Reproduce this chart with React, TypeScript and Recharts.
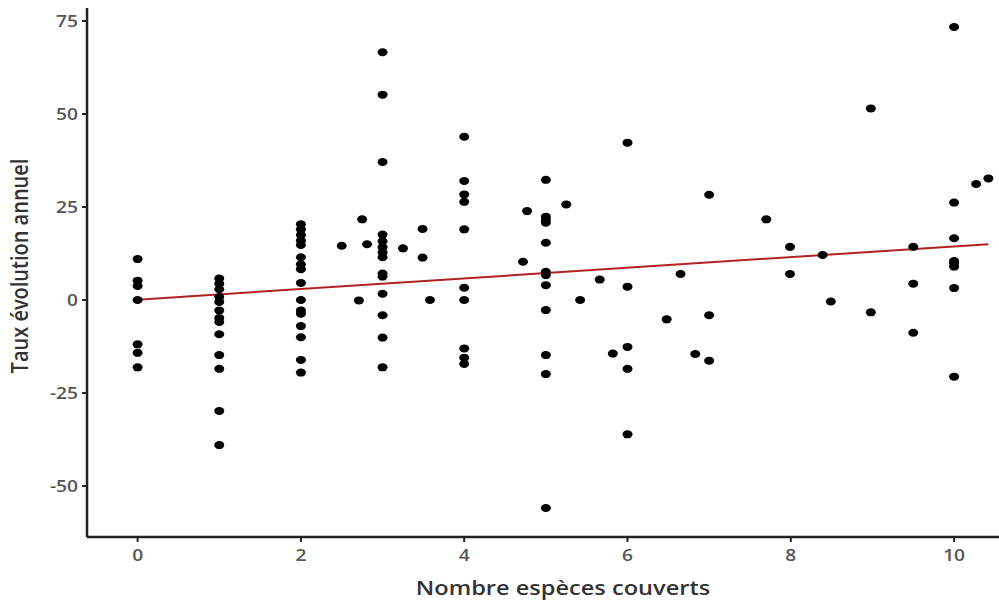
import React from "react";
import { ScatterChart, Scatter, XAxis, YAxis, ReferenceLine, Label } from "recharts";

// Values (x = Nombre espèces couverts, y = Taux évolution annuel)
const col0 = [11.0, 5.2, 3.8, 0, -11.9, -14.2, -18.1];
const col1 = [5.8, 4.4, 2.9, 0.8, -0.5, -2.8, -4.8, -5.9, -9.2, -14.8, -18.5, -29.8, -39.0];
const col2 = [20.4, 19.0, 17.5, 16.0, 14.8, 11.5, 9.6, 8.3, 4.6, 0, -2.8, -3.7, -7.0, -10.0, -16.1, -19.5];
const col3 = [66.6, 55.2, 37.1, 17.6, 15.8, 14.2, 12.8, 11.5, 7.1, 6.3, 1.7, -4.1, -10.1, -18.1];
const col4 = [43.9, 32.0, 28.4, 26.4, 19.0, 3.3, 0, -13.0, -15.5, -17.2];
const col5 = [32.3, 22.4, 21.5, 20.8, 15.4, 7.6, 6.7, 4.0, -2.7, -14.8, -19.9, -55.9];
const col6 = [42.3, 3.6, -12.6, -18.5, -36.1];
const col10 = [73.4, 26.2, 16.6, 10.5, 9.9, 9.0, 3.2, -20.6];

const otherX = [2.5, 2.75, 2.81, 2.71, 3.25, 3.49, 3.49, 3.58, 4.77, 4.72, 5.25, 5.42, 5.66, 5.82, 6.48, 6.65, 6.83, 7.0, 7.0, 7.0, 7.7, 7.99, 7.99, 8.39, 8.49, 8.98, 8.98, 9.5, 9.5, 9.5, 10.27, 10.42];
const otherY = [14.6, 21.7, 15.0, -0.1, 13.9, 19.1, 11.4, 0, 23.9, 10.3, 25.7, 0, 5.5, -14.4, -5.2, 7.0, -14.5, 28.3, -4.1, -16.3, 21.7, 14.3, 7.0, 12.1, -0.4, 51.5, -3.3, 14.3, 4.4, -8.8, 31.2, 32.7];

const fitX = [0, 10.42];
const fitY = [0.1, 15.0];

const xTicks = [0, 2, 4, 6, 8, 10];
const yTicks = [-50, -25, 0, 25, 50, 75];

const columns: [number, number[]][] = [
  [0, col0], [1, col1], [2, col2], [3, col3], [4, col4], [5, col5], [6, col6], [10, col10],
];

const points = [
  ...columns.flatMap(([x, ys]) => ys.map((y) => ({ x, y }))),
  ...otherX.map((x, i) => ({ x, y: otherY[i] })),
];

const FONT = "'Open Sans', 'Noto Sans', sans-serif";
const SX = 1.2;

const Dot = (props: any) => {
  const { cx, cy } = props;
  if (cx == null || cy == null) return null;
  return <ellipse cx={cx} cy={cy} rx={5} ry={4} fill="#000" />;
};

const XTick = (props: any) => {
  const { x, y, payload } = props;
  return (
    <text
      transform={`translate(${x},${y}) scale(${SX},1)`}
      textAnchor="middle"
      dy="0.71em"
      fill="#555"
      fontSize={16}
      fontWeight={600}
      fontFamily={FONT}
    >
      {payload.value}
    </text>
  );
};

const YTick = (props: any) => {
  const { x, y, payload } = props;
  return (
    <text
      transform={`translate(${x},${y}) scale(${SX},1)`}
      textAnchor="end"
      dy="0.355em"
      fill="#555"
      fontSize={16}
      fontWeight={600}
      fontFamily={FONT}
    >
      {payload.value}
    </text>
  );
};

const XTitle = (props: any) => {
  const vb = props.viewBox || { x: 87, y: 537, width: 912 };
  return (
    <text
      transform={`translate(${vb.x + vb.width / 2 + 20},${vb.y + 51}) scale(1.18,1)`}
      textAnchor="middle"
      dy="0.355em"
      fill="#333"
      fontSize={20}
      fontWeight={600}
      fontFamily={FONT}
    >
      Nombre espèces couverts
    </text>
  );
};

const YTitle = (props: any) => {
  return (
    <text
      transform={`translate(19,266) scale(1.2,1) rotate(-90)`}
      textAnchor="middle"
      dy="0.355em"
      fill="#333"
      fontSize={20}
      fontWeight={600}
      fontFamily={FONT}
    >
      Taux évolution annuel
    </text>
  );
};

export default function App() {
  return (
    <div style={{ position: "absolute", left: 0, top: 0, width: 999, height: 604, background: "#fff" }}>
      <ScatterChart width={999} height={604} margin={{ top: 8, right: 0, bottom: 0, left: 0 }}>
        <XAxis
          type="number"
          dataKey="x"
          domain={[-0.62, 10.55]}
          allowDataOverflow
          ticks={xTicks}
          height={67}
          axisLine={{ stroke: "#222", strokeWidth: 2.5 }}
          tickLine={{ stroke: "#222", strokeWidth: 2 }}
          tickSize={5}
          tickMargin={8}
          tick={<XTick />}
        >
          <Label content={<XTitle />} />
        </XAxis>
        <YAxis
          type="number"
          dataKey="y"
          domain={[-63.7, 78.5]}
          allowDataOverflow
          ticks={yTicks}
          width={87}
          axisLine={{ stroke: "#222", strokeWidth: 2.5 }}
          tickLine={{ stroke: "#222", strokeWidth: 2 }}
          tickSize={5}
          tickMargin={4}
          tick={<YTick />}
        >
          <Label content={<YTitle />} />
        </YAxis>
        <Scatter data={points} shape={<Dot />} isAnimationActive={false} />
        <ReferenceLine
          segment={[{ x: fitX[0], y: fitY[0] }, { x: fitX[1], y: fitY[1] }]}
          stroke="#b22222"
          strokeWidth={2}
        />
      </ScatterChart>
    </div>
  );
}
